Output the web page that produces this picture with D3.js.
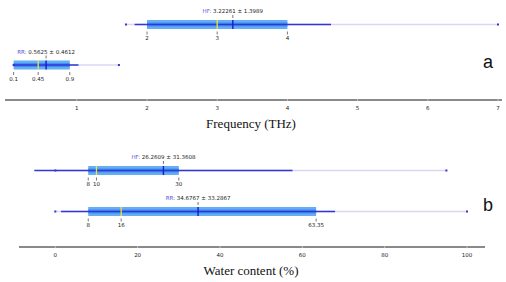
<html>
<head>
<script src="https://d3js.org/d3.v7.min.js"></script>
<style>
  body { margin: 0; background: white; }
  .lbl { font-family: "DejaVu Sans", sans-serif; font-size: 5.5px; fill: #222; }
  .grp { fill: #5b4fe0; }
  .axtitle { font-family: "Liberation Serif", serif; font-size: 13px; fill: #111; }
  .panel { font-family: "Liberation Sans", sans-serif; font-size: 18px; fill: #111; }
</style>
</head>
<body>
<svg id="chart" width="506" height="282"></svg>
<script>
// frequency (THz)
const groups = ["HF", "RR"];
const freqQ1 = [2, 0.1];
const freqMed = [3, 0.45];
const freqQ3 = [4, 0.9];
const freqMean = [3.22261, 0.5625];
const freqSd = [1.3989, 0.4612];
const freqMin = [1.7, 0.1];
const freqMax = [7, 1.6];
const freqTicks = [1, 2, 3, 4, 5, 6, 7];

// water content (%)
const waterQ1 = [8, 8];
const waterMed = [10, 16];
const waterQ3 = [30, 63.35];
const waterMean = [26.2609, 34.6767];
const waterSd = [31.3608, 33.2867];
const waterMin = [0, 0];
const waterMax = [95, 100];
const waterTicks = [0, 20, 40, 60, 80, 100];

const svg = d3.select("#chart");

const xF = d3.scaleLinear().domain([0, 7]).range([6.6, 498]);
const xW = d3.scaleLinear().domain([0, 100]).range([55.3, 467]);

function rows(q1, med, q3, mean, sd, mn, mx) {
    return groups.map((g, i) => ({ g: g, q1: q1[i], med: med[i], q3: q3[i], mean: mean[i], sd: sd[i], min: mn[i], max: mx[i] }));
}

function drawBox(d, x, cy) {
    const g = svg.append("g");
    // min-max faint line
    g.append("line").attr("x1", x(d.min)).attr("x2", x(d.max)).attr("y1", cy).attr("y2", cy)
        .attr("stroke", "#d9d8f3").attr("stroke-width", 1.6);
    // box
    g.append("rect").attr("x", x(d.q1)).attr("y", cy - 4.5).attr("width", x(d.q3) - x(d.q1)).attr("height", 9)
        .attr("fill", "#66aef4");
    g.append("rect").attr("x", x(d.q1)).attr("y", cy - 2).attr("width", x(d.q3) - x(d.q1)).attr("height", 4)
        .attr("fill", "#3f8ff0");
    // mean +- sd
    g.append("line").attr("x1", x(d.mean - d.sd)).attr("x2", x(d.mean + d.sd)).attr("y1", cy).attr("y2", cy)
        .attr("stroke", "#3036d8").attr("stroke-width", 1.4);
    // end dots
    [d.min, d.max].forEach(v => {
        g.append("rect").attr("x", x(v) - 1).attr("y", cy - 1).attr("width", 2).attr("height", 2).attr("fill", "#3036d8");
    });
    // median
    g.append("line").attr("x1", x(d.med)).attr("x2", x(d.med)).attr("y1", cy - 4.5).attr("y2", cy + 4.5)
        .attr("stroke", "#e8e83a").attr("stroke-width", 1.3);
    // mean
    g.append("line").attr("x1", x(d.mean)).attr("x2", x(d.mean)).attr("y1", cy - 4.5).attr("y2", cy + 4.5)
        .attr("stroke", "#1a1ad0").attr("stroke-width", 1.4);
    // label above
    g.append("line").attr("x1", x(d.mean)).attr("x2", x(d.mean)).attr("y1", cy - 9.5).attr("y2", cy - 6.5)
        .attr("stroke", "#555").attr("stroke-width", 0.8);
    const t = g.append("text").attr("class", "lbl").attr("x", x(d.mean)).attr("y", cy - 11.5)
        .attr("text-anchor", "middle");
    t.append("tspan").attr("class", "grp").text(d.g + ": ");
    t.append("tspan").text(d.mean + " \u00b1 " + d.sd);
    // quartile ticks below
    [d.q1, d.med, d.q3].forEach(v => {
        g.append("line").attr("x1", x(v)).attr("x2", x(v)).attr("y1", cy + 7).attr("y2", cy + 10)
            .attr("stroke", "#555").attr("stroke-width", 0.8);
        g.append("text").attr("class", "lbl").attr("x", x(v)).attr("y", cy + 15.5)
            .attr("text-anchor", "middle").text(v);
    });
}

function drawAxis(x, ticks, y, x0, x1, title) {
    svg.append("line").attr("x1", x0).attr("x2", x1).attr("y1", y).attr("y2", y)
        .attr("stroke", "#8a8a8a").attr("stroke-width", 2.2);
    ticks.forEach(v => {
        svg.append("line").attr("x1", x(v)).attr("x2", x(v)).attr("y1", y - 1.1).attr("y2", y + 1.1)
            .attr("stroke", "#d0d0d0").attr("stroke-width", 0.8);
        svg.append("text").attr("class", "lbl").attr("x", x(v)).attr("y", y + 10)
            .attr("text-anchor", "middle").text(v);
    });
    svg.append("text").attr("class", "axtitle").attr("x", 251).attr("y", y + 28)
        .attr("text-anchor", "middle").text(title);
}

const freqRows = rows(freqQ1, freqMed, freqQ3, freqMean, freqSd, freqMin, freqMax);
const waterRows = rows(waterQ1, waterMed, waterQ3, waterMean, waterSd, waterMin, waterMax);

drawBox(freqRows[0], xF, 24.5);
drawBox(freqRows[1], xF, 65);
drawAxis(xF, freqTicks, 100, 5, 502, "Frequency (THz)");

drawBox(waterRows[0], xW, 170.5);
drawBox(waterRows[1], xW, 211.5);
drawAxis(xW, waterTicks, 247, 19, 485, "Water content (%)");

svg.append("text").attr("class", "panel").attr("x", 483).attr("y", 68).text("a");
svg.append("text").attr("class", "panel").attr("x", 483).attr("y", 211).text("b");
</script>
</body>
</html>
